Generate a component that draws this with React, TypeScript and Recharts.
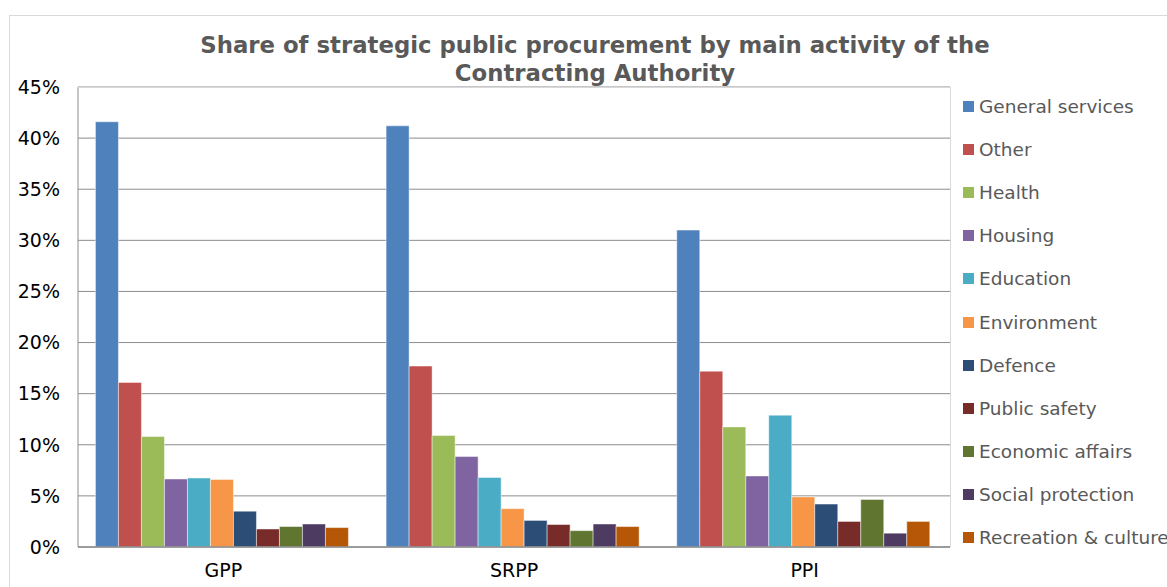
import { BarChart, Bar, XAxis, YAxis, CartesianGrid } from "recharts";

const groups = ["GPP", "SRPP", "PPI"];

const seriesNames = [
  "General services",
  "Other",
  "Health",
  "Housing",
  "Education",
  "Environment",
  "Defence",
  "Public safety",
  "Economic affairs",
  "Social protection",
  "Recreation & culture",
];

const seriesColors = [
  "#4F81BD",
  "#C0504D",
  "#9BBB59",
  "#8064A2",
  "#4BACC6",
  "#F79646",
  "#2C4D75",
  "#772C2A",
  "#5F7530",
  "#4D3B62",
  "#B65708",
];

// values per series, in order GPP, SRPP, PPI (percent)
const generalServices = [41.6, 41.2, 31.0];
const other = [16.1, 17.7, 17.2];
const health = [10.8, 10.9, 11.75];
const housing = [6.65, 8.85, 6.95];
const education = [6.75, 6.8, 12.9];
const environment = [6.6, 3.75, 4.9];
const defence = [3.5, 2.6, 4.2];
const publicSafety = [1.76, 2.2, 2.5];
const economicAffairs = [2.0, 1.6, 4.65];
const socialProtection = [2.25, 2.25, 1.35];
const recreationCulture = [1.9, 2.0, 2.5];

const seriesValues = [
  generalServices,
  other,
  health,
  housing,
  education,
  environment,
  defence,
  publicSafety,
  economicAffairs,
  socialProtection,
  recreationCulture,
];

const yTicks = [0, 5, 10, 15, 20, 25, 30, 35, 40, 45];

const chartData = groups.map((g, gi) => {
  const row: Record<string, string | number> = { group: g };
  seriesNames.forEach((name, si) => {
    row[name] = seriesValues[si][gi];
  });
  return row;
});

const FONT = "'DejaVu Sans', Verdana, sans-serif";

export default function App() {
  return (
    <div
      style={{
        position: "absolute",
        left: 0,
        top: 0,
        width: 1167,
        height: 587,
        overflow: "hidden",
        background: "#fff",
        fontFamily: FONT,
      }}
    >
      <div
        style={{
          position: "absolute",
          left: 9,
          top: 15,
          width: 1200,
          height: 620,
          border: "1px solid #d9d9d9",
        }}
      />
      <div
        style={{
          position: "absolute",
          left: 145,
          width: 900,
          top: 31,
          textAlign: "center",
          fontWeight: "bold",
          fontSize: 22.8,
          lineHeight: "28px",
          color: "#595959",
          whiteSpace: "nowrap",
        }}
      >
        Share of strategic public procurement by main activity of the
        <br />
        Contracting Authority
      </div>
      <div style={{ position: "absolute", left: 0, top: 0 }}>
        <BarChart
          width={1167}
          height={587}
          data={chartData}
          margin={{ top: 87, right: 217, left: 0, bottom: 10 }}
          barCategoryGap="6%"
          barGap={0}
        >
          <CartesianGrid
            vertical={false}
            stroke="#8c8c8c"
            strokeWidth={1}
          />
          <XAxis
            dataKey="group"
            height={30}
            tickLine={false}
            axisLine={{ stroke: "#8c8c8c", strokeWidth: 1.5 }}
            tick={{ fontSize: 19, fill: "#000", fontFamily: FONT }}
            tickMargin={11}
          />
          <YAxis
            width={78}
            domain={[0, 45]}
            ticks={yTicks}
            interval={0}
            tickFormatter={(v) => `${v}%`}
            tickLine={false}
            tickMargin={12}
            axisLine={{ stroke: "#8c8c8c" }}
            tick={{ fontSize: 19, fill: "#000", fontFamily: FONT }}
          />
          {seriesNames.map((name, i) => (
            <Bar
              key={name}
              dataKey={name}
              fill={seriesColors[i]}
              stroke="#ffffff"
              strokeOpacity={0.45}
              strokeWidth={1}
              isAnimationActive={false}
            />
          ))}
        </BarChart>
      </div>
      <div
        style={{
          position: "absolute",
          left: 78,
          top: 87,
          width: 872,
          height: 459,
          borderTop: "1px solid #d9d9d9",
          borderRight: "1px solid #d9d9d9",
          pointerEvents: "none",
        }}
      />
      <div style={{ position: "absolute", left: 963, top: 85 }}>
        {seriesNames.map((name, i) => (
          <div
            key={name}
            style={{
              display: "flex",
              alignItems: "center",
              height: 43.1,
              whiteSpace: "nowrap",
              fontSize: 18.5,
              color: "#595959",
            }}
          >
            <span
              style={{
                display: "inline-block",
                width: 11,
                height: 11,
                background: seriesColors[i],
                marginRight: 5,
              }}
            />
            {name}
          </div>
        ))}
      </div>
    </div>
  );
}
